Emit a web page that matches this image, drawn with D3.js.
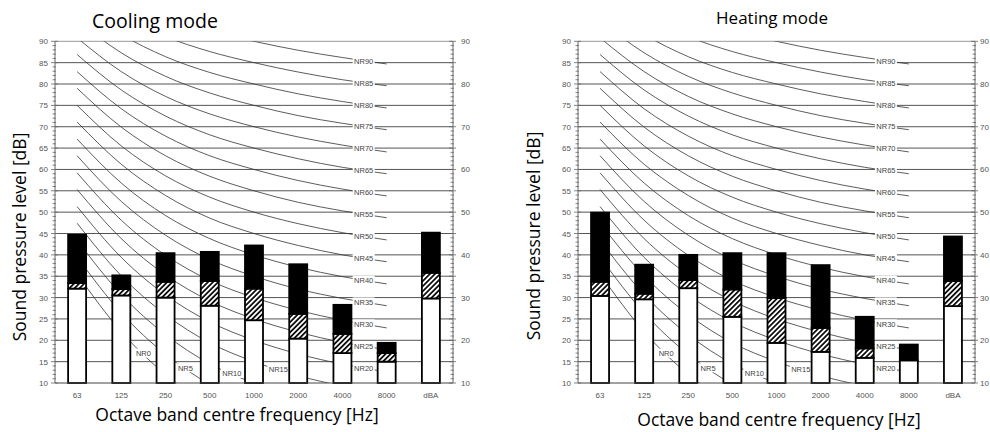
<!DOCTYPE html>
<html><head><meta charset="utf-8">
<script src="https://cdn.jsdelivr.net/npm/d3@7"></script>
<style>body{margin:0;background:#fff} svg{display:block}</style>
</head><body>
<svg id="c" width="990" height="432"></svg>
<script>
// ---------- data ----------
const bands = ["63","125","250","500","1000","2000","4000","8000","dBA"];
const nrBands = ["63","125","250","500","1000","2000","4000","8000"];

const coolingWhite = [32.1, 30.5, 30.0, 28.1, 24.7, 20.4, 17.0, 15.0, 29.8];
const coolingHatch = [33.4, 32.0, 33.7, 33.9, 32.1, 26.2, 21.5, 17.0, 35.8];
const coolingTotal = [44.7, 35.2, 40.4, 40.7, 42.2, 37.8, 28.3, 19.4, 45.2];

const heatingWhite = [30.4, 29.6, 32.2, 25.5, 19.4, 17.3, 15.9, 15.3, 28.0];
const heatingHatch = [33.7, 30.9, 34.1, 31.9, 29.9, 22.9, 18.1, 15.3, 33.9];
const heatingTotal = [49.9, 37.7, 40.0, 40.4, 40.4, 37.6, 25.5, 19.0, 44.3];

const nrLevels = [0,5,10,15,20,25,30,35,40,45,50,55,60,65,70,75,80,85,90];
const nrCurves = [
  [35.5, 22.0, 12.0,  4.8,  0, -3.5, -6.1, -8.0],
  [39.5, 26.4, 16.7,  9.7,  5,  1.6, -1.0, -2.9],
  [43.4, 30.7, 21.3, 14.5, 10,  6.7,  4.2,  2.3],
  [47.4, 35.1, 26.0, 19.4, 15, 11.7,  9.3,  7.5],
  [51.3, 39.4, 30.6, 24.3, 20, 16.8, 14.4, 12.6],
  [55.3, 43.8, 35.3, 29.2, 25, 21.9, 19.5, 17.8],
  [59.2, 48.1, 39.9, 34.0, 30, 27.0, 24.7, 22.9],
  [63.2, 52.5, 44.6, 38.9, 35, 32.0, 29.8, 28.1],
  [67.1, 56.8, 49.2, 43.8, 40, 37.1, 34.9, 33.2],
  [71.1, 61.2, 53.9, 48.6, 45, 42.2, 40.0, 38.4],
  [75.0, 65.5, 58.5, 53.5, 50, 47.3, 45.2, 43.5],
  [79.0, 69.9, 63.2, 58.4, 55, 52.3, 50.3, 48.7],
  [82.9, 74.2, 67.8, 63.2, 60, 57.4, 55.4, 53.8],
  [86.9, 78.6, 72.5, 68.1, 65, 62.5, 60.5, 59.0],
  [90.8, 82.9, 77.1, 73.0, 70, 67.6, 65.7, 64.1],
  [94.8, 87.3, 81.8, 77.9, 75, 72.6, 70.8, 69.3],
  [98.7, 91.6, 86.4, 82.7, 80, 77.7, 75.9, 74.4],
  [102.7, 96.0, 91.1, 87.6, 85, 82.8, 81.0, 79.6],
  [106.6,100.3, 95.7, 92.5, 90, 87.9, 86.2, 84.7]
];
// label placement along each curve (fractional band index)
const nrLabelPos = [1.5, 2.45, 3.5, 4.55, 6.48,6.48,6.48,6.48,6.48,6.48,6.48,6.48,6.48,6.48,6.48,6.48,6.48,6.48,6.48];

const leftTicks = [10,15,20,25,30,35,40,45,50,55,60,65,70,75,80,85,90];
const rightTicks = [10,20,30,40,50,60,70,80,90];

// ---------- drawing ----------
const svg = d3.select("#c");
const defs = svg.append("defs");
const pat = defs.append("pattern").attr("id","hatch").attr("patternUnits","userSpaceOnUse")
  .attr("width",3.6).attr("height",3.6).attr("patternTransform","rotate(45)");
pat.append("rect").attr("width",3.6).attr("height",3.6).attr("fill","#fff");
pat.append("line").attr("x1",0.9).attr("y1",0).attr("x2",0.9).attr("y2",3.6).attr("stroke","#000").attr("stroke-width",1.7);

const tickFont = "'Liberation Sans', Arial, sans-serif";
const titleFont = "'Open Sans', 'Noto Sans', sans-serif";

function panel(cfg, idx) {
  const g = svg.append("g");
  const x = d3.scaleBand().domain(bands).range([cfg.x0, cfg.x1]);
  const y = d3.scaleLinear().domain([10, 90]).range([383, 41.3]);
  const step = x.step(), bw = step;
  const cx = b => x(b) + bw / 2;

  // grid lines
  g.selectAll(".grid").data(leftTicks.filter(v => v > 10)).join("line")
    .attr("x1", cfg.x0).attr("x2", cfg.x1)
    .attr("y1", d => y(d)).attr("y2", d => y(d))
    .attr("stroke", (d) => (d === 90 ? "#999" : "#555")).attr("stroke-width", 1);

  // NR curves
  const clipId = "clip" + idx;
  defs.append("clipPath").attr("id", clipId).append("rect")
    .attr("x", cfg.x0).attr("y", y(90)).attr("width", cfg.x1 - cfg.x0).attr("height", y(10) - y(90));
  const line = d3.line().x((d, i) => cx(nrBands[i])).y(d => y(d)).curve(d3.curveMonotoneX);
  g.append("g").attr("clip-path", `url(#${clipId})`)
    .selectAll("path").data(nrCurves).join("path")
    .attr("d", line).attr("fill", "none").attr("stroke", "#333").attr("stroke-width", 0.8);

  // NR labels
  const lg = g.append("g").attr("clip-path", `url(#${clipId})`);
  nrLevels.forEach((lv, k) => {
    const p = nrLabelPos[k];
    const i0 = Math.floor(p), f = p - i0;
    const vals = nrCurves[k];
    const v = vals[i0] * (1 - f) + vals[i0 + 1] * f;
    const px = cx(nrBands[i0]) + f * step;
    const py = y(v);
    lg.append("rect").attr("x", px - 11).attr("y", py - 4.5).attr("width", 22).attr("height", 9).attr("fill", "#fff");
    lg.append("text").attr("x", px).attr("y", py + 3).attr("text-anchor", "middle")
      .attr("font-family", tickFont).attr("font-size", 7.5).attr("fill", "#444").text("NR" + lv);
  });

  // bars
  const barW = 18;
  const bg = g.append("g");
  bands.forEach((b, i) => {
    const bx = cx(b) - barW / 2;
    const segs = [
      [10, cfg.white[i], "#fff"],
      [cfg.white[i], cfg.hatch[i], "url(#hatch)"],
      [cfg.hatch[i], cfg.total[i], "#000"]
    ];
    segs.forEach(([a, t, fill]) => {
      if (t - a <= 0.05) return;
      bg.append("rect").attr("x", bx).attr("y", y(t)).attr("width", barW).attr("height", y(a) - y(t))
        .attr("fill", fill).attr("stroke", "#000").attr("stroke-width", 1.8);
    });
  });

  // bottom axis line
  g.append("line").attr("x1", cfg.x0).attr("x2", cfg.x1).attr("y1", y(10)).attr("y2", y(10))
    .attr("stroke", "#444").attr("stroke-width", 1);

  // left / right axes with minor ticks
  [cfg.x0, cfg.x1].forEach((ax, side) => {
    g.append("line").attr("x1", ax).attr("x2", ax).attr("y1", y(10)).attr("y2", y(90))
      .attr("stroke", "#666").attr("stroke-width", 1);
    const minor = d3.range(10, 91, 1);
    g.selectAll(null).data(minor).join("line")
      .attr("x1", d => d % 5 === 0 ? ax - 4 : ax - 2.5)
      .attr("x2", d => d % 5 === 0 ? ax + 3 : ax + 1)
      .attr("y1", d => y(d)).attr("y2", d => y(d))
      .attr("stroke", "#666").attr("stroke-width", 0.8);
  });
  g.selectAll(null).data(leftTicks).join("text")
    .attr("x", cfg.x0 - 7).attr("y", d => y(d) + 3).attr("text-anchor", "end")
    .attr("font-family", tickFont).attr("font-size", 8).attr("fill", "#555").text(d => d);
  g.selectAll(null).data(rightTicks).join("text")
    .attr("x", cfg.x1 + cfg.rightGap).attr("y", d => y(d) + 3).attr("text-anchor", "start")
    .attr("font-family", tickFont).attr("font-size", 8).attr("fill", "#555").text(d => d);

  // x labels
  g.selectAll(null).data(bands).join("text")
    .attr("x", d => cx(d)).attr("y", 398).attr("text-anchor", "middle")
    .attr("font-family", tickFont).attr("font-size", 8).attr("fill", "#555").text(d => d);

  // titles
  g.append("text").attr("x", cfg.titleX).attr("y", cfg.titleY).attr("text-anchor", "middle")
    .attr("font-family", titleFont).attr("font-size", cfg.titleSize).attr("fill", "#000").text(cfg.title);
  g.append("text").attr("x", cfg.xTitleX).attr("y", cfg.xTitleY).attr("text-anchor", "middle")
    .attr("font-family", titleFont).attr("font-size", 17.5).attr("fill", "#000")
    .text("Octave band centre frequency [Hz]");
  g.append("text").attr("transform", `translate(${cfg.yTitleX},${cfg.yTitleY}) rotate(-90)`)
    .attr("text-anchor", "middle").attr("font-family", titleFont).attr("font-size", 17.5)
    .attr("fill", "#000").text("Sound pressure level [dB]");
}

panel({x0: 55, x1: 453, white: coolingWhite, hatch: coolingHatch, total: coolingTotal,
  title: "Cooling mode", titleX: 155, titleY: 28, titleSize: 19.5, rightGap: 8,
  xTitleX: 237, xTitleY: 421, yTitleX: 26, yTitleY: 237}, 0);
panel({x0: 578, x1: 975, white: heatingWhite, hatch: heatingHatch, total: heatingTotal,
  title: "Heating mode", titleX: 772, titleY: 24, titleSize: 17, rightGap: 5,
  xTitleX: 779, xTitleY: 426, yTitleX: 540, yTitleY: 236}, 1);
</script>
</body></html>
